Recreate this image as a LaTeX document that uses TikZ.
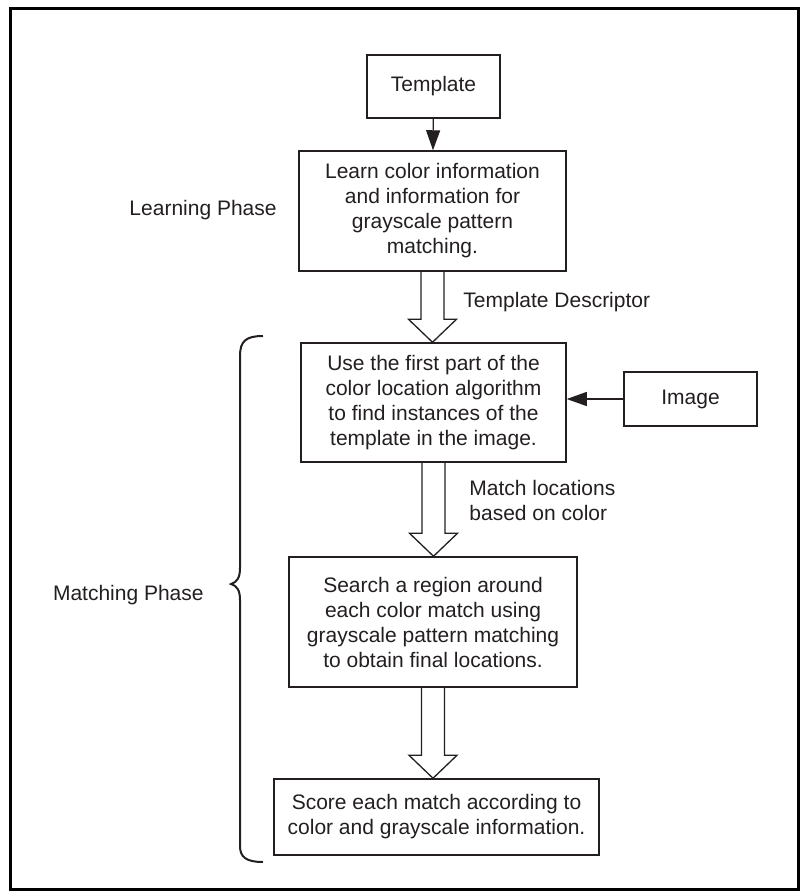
\documentclass[tikz,border=0pt]{standalone}
\usepackage{fontspec}
\setmainfont{Liberation Sans}
\usepackage{xcolor}
\usetikzlibrary{arrows.meta,calc}

\definecolor{ink}{HTML}{231F20}

% wide open arrow from the bottom of #1 to the top of #2
\newcommand{\hollowarrow}[2]{%
\path (#1.south |- #2.north) coordinate (tip);
\draw[hollow] ($(#1.south)+(-11.5,0)$) -- ($(tip)+(-11.5,-23)$) -- ($(tip)+(-24,-23)$)
  -- (tip) -- ($(tip)+(24,-23)$) -- ($(tip)+(11.5,-23)$) -- ($(#1.south)+(11.5,0)$);}

\begin{document}
\begin{tikzpicture}[x=0.5pt,y=-0.5pt,
  box/.style={draw=ink,line width=0.75pt,align=center,inner sep=0pt,text=ink,
    font=\fontsize{10.5}{12.5}\selectfont},
  note/.style={align=left,inner sep=0pt,text=ink,font=\fontsize{10.5}{12.5}\selectfont},
  hollow/.style={draw=ink,line width=0.65pt,line join=miter},
  solid arrow/.style={draw=ink,line width=0.6pt,-{Triangle[length=10pt,width=7pt]}}]
\useasboundingbox (0,0) rectangle (802,891);
\draw[line width=1.5pt] (10,8) rectangle (798,889);

\node[box,minimum width=66.5pt,minimum height=31.5pt] (tmpl) at (433.5,86.5) {Template};
\node[box,minimum width=133.5pt,minimum height=60pt] (learn) at (432.5,211)
  {Learn color information\\and information for\\grayscale pattern\\matching.};
\node[box,minimum width=132.5pt,minimum height=59.5pt] (locate) at (433.5,402.5)
  {Use the first part of the\\color location algorithm\\to find instances of the\\template in the image.};
\node[box,minimum width=66.5pt,minimum height=27pt] (img) at (690.5,399) {Image};
\node[box,minimum width=144pt,minimum height=65pt] (search) at (433,622)
  {Search a region around\\each color match using\\grayscale pattern matching\\to obtain final locations.};
\node[box,minimum width=162.5pt,minimum height=38pt] (score) at (436.5,817)
  {Score each match according to\\color and grayscale information.};

\node[note,anchor=east] (learnlbl) at (277,210) {Learning Phase};
\node[note,anchor=east] (matchlbl) at (204,595) {Matching Phase};
\node[note,anchor=west] (desclbl) at (463,302) {Template Descriptor};
\node[note,anchor=west] (loclbl) at (469,500) {Match locations\\based on color};

\draw[solid arrow] (tmpl) -- (learn);
\draw[solid arrow] (img.west) -- (img.west -| locate.east);

\hollowarrow{learn}{locate}
\hollowarrow{locate}{search}
\hollowarrow{search}{score}

% brace for the matching phase
\draw[ink,line width=1pt] (263,336) .. controls (246,336) and (240,341) .. (240,356)
  -- (240,568) .. controls (240,578) and (237,582) .. (231,584)
  .. controls (237,586) and (240,590) .. (240,600)
  -- (240,846) .. controls (240,857) and (246,862) .. (263,862);
\end{tikzpicture}
\end{document}
